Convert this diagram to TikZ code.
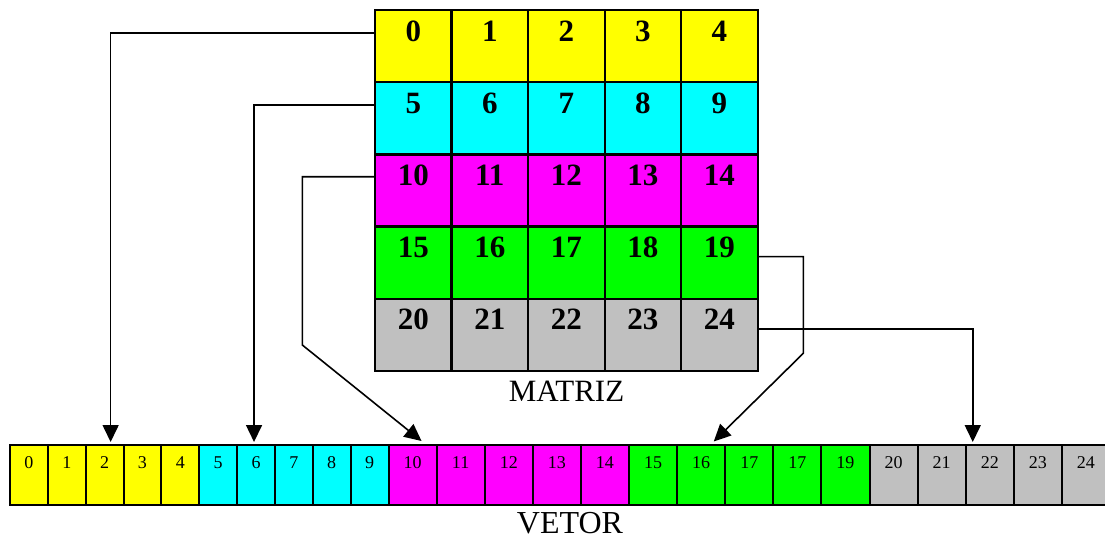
\documentclass[tikz,border=0pt]{standalone}
\usepackage{fontspec}
\setmainfont{Liberation Serif}
\usetikzlibrary{arrows.meta}

\definecolor{cY}{HTML}{FFFF00}
\definecolor{cC}{HTML}{00FFFF}
\definecolor{cM}{HTML}{FF00FF}
\definecolor{cG}{HTML}{00FF00}
\definecolor{cS}{HTML}{C0C0C0}

\tikzset{
  mcell/.style={draw=black, line width=2.3pt, minimum width=76.55pt,
    minimum height=72.2pt, inner sep=0pt, outer sep=0pt},
  mtext/.style={anchor=base, inner sep=0pt,
    font=\fontsize{31}{34}\selectfont\bfseries},
  vcell/.style={draw=black, line width=2pt, minimum height=60pt,
    inner sep=0pt, outer sep=0pt},
  vtext/.style={anchor=base, inner sep=0pt, font=\fontsize{18}{21}\selectfont},
  caption/.style={anchor=base, inner sep=0pt},
  link/.style={draw=black, line width=1.6pt},
  linkarrow/.style={link, -{Triangle[length=17pt,width=16pt]}}
}

\begin{document}
\begin{tikzpicture}[x=1pt, y=-1pt]
\useasboundingbox (0,0) rectangle (1105,538);
\clip (0,0) rectangle (1105,538);

% the 5x5 matrix
\foreach \r/\col in {0/cY,1/cC,2/cM,3/cG,4/cS}{
  \foreach \c in {0,...,4}{
    \pgfmathtruncatemacro\n{5*\r+\c}
    \node[mcell, fill=\col] (m-\r-\c) at ({375+76.55*(\c+0.5)}, {10+72.2*(\r+0.5)}) {};
    \node[mtext] (mt-\r-\c) at ([yshift=-31pt]m-\r-\c.north) {\n};
  }
}
\node[caption, font=\fontsize{31}{34}\selectfont] (matlabel) at (566.5,401.5) {MATRIZ};

% the vector of 25 cells
\foreach \g/\col in {0/cY,1/cC,2/cM,3/cG,4/cS}{
  \foreach \k in {0,...,4}{
    \pgfmathtruncatemacro\i{5*\g+\k}
    \pgfmathsetmacro\w{\i<10 ? 37.85 : 48.1}
    \pgfmathsetmacro\xl{\i<10 ? 10+37.85*\i : 388.5+48.1*(\i-10)}
    \node[vcell, fill=\col, minimum width=\w pt] (v-\i) at ({\xl+\w/2}, 475) {};
    \node[vtext] (vt-\i) at ([yshift=-23.5pt]v-\i.north) {\ifnum\i=18 17\else\i\fi};
  }
}
\node[caption, font=\fontsize{32}{35}\selectfont] (veclabel) at (570,533) {VETOR};

% row 0 -> cell 2
\draw[linkarrow] ([yshift=-23pt]m-0-0.north west) -| ([xshift=6pt,yshift=3pt]v-2.north);
% row 1 -> cell 6
\draw[linkarrow] ([yshift=-23pt]m-1-0.north west) -| ([xshift=-2pt,yshift=3pt]v-6.north);
% row 2 -> cell 10
\coordinate (bend2) at (302.3,345);
\draw[linkarrow] ([yshift=-22.3pt]m-2-0.north west) -| (bend2)
  -- ([xshift=9pt,yshift=4pt]v-10.north);
% row 3 -> cell 16
\coordinate (bend3) at (803.3,353.3);
\draw[linkarrow] ([yshift=-30pt]m-3-4.north east) -| (bend3)
  -- ([xshift=12.6pt,yshift=3.5pt]v-16.north);
% row 4 -> cell 22
\draw[linkarrow] ([yshift=-30pt]m-4-4.north east) -| ([xshift=-17pt,yshift=3pt]v-22.north);
\end{tikzpicture}
\end{document}
